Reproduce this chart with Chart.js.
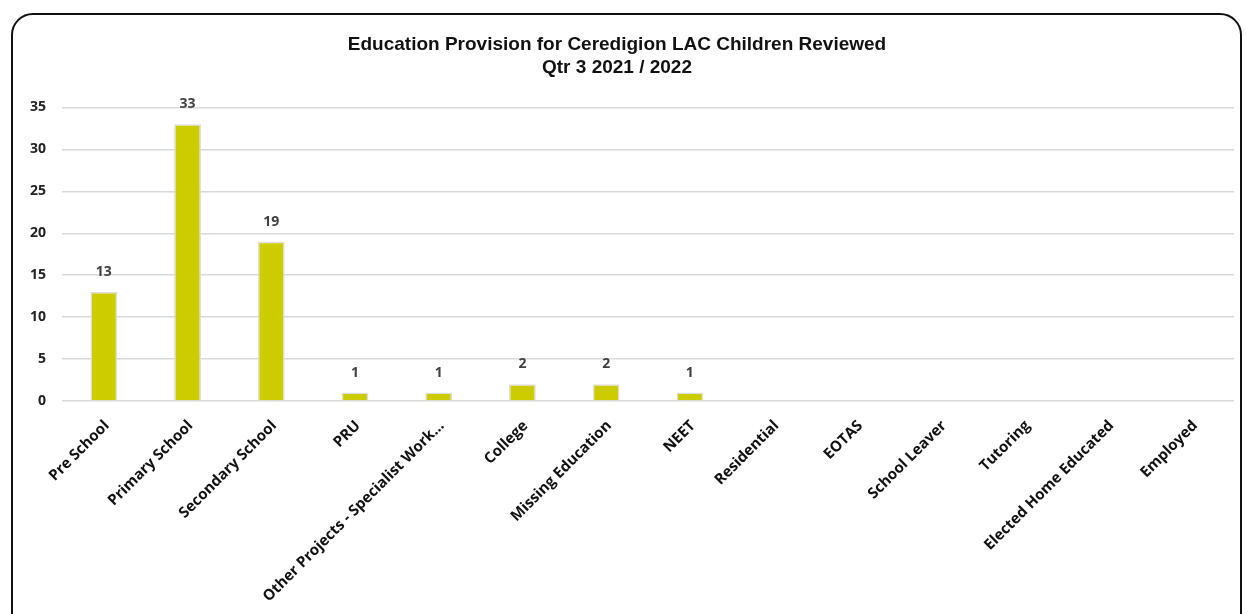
<!DOCTYPE html>
<html>
<head>
<meta charset="utf-8">
<script src="https://cdn.jsdelivr.net/npm/chart.js@4"></script>
<style>
  html, body { margin: 0; padding: 0; background: #fff; width: 1246px; height: 614px; overflow: hidden; }
  #frame { position: absolute; left: 11px; top: 13px; width: 1231px; height: 640px; border: 2px solid #111; border-radius: 22px; box-sizing: border-box; }
  #wrap { position: absolute; left: 0; top: 0; width: 1246px; height: 614px; }
</style>
</head>
<body>
<div id="frame"></div>
<div id="wrap"><canvas id="c" width="1246" height="614"></canvas></div>
<script>
const titleLines = ['Education Provision for Ceredigion LAC Children Reviewed', 'Qtr 3 2021 / 2022'];
const categories = ['Pre School', 'Primary School', 'Secondary School', 'PRU', 'Other Projects - Specialist Work...', 'College', 'Missing Education', 'NEET', 'Residential', 'EOTAS', 'School Leaver', 'Tutoring', 'Elected Home Educated', 'Employed'];
const values = [13, 33, 19, 1, 1, 2, 2, 1, 0, 0, 0, 0, 0, 0];
const yTicks = [0, 5, 10, 15, 20, 25, 30, 35];

const dataLabels = {
  id: 'dataLabels',
  afterDatasetsDraw(chart) {
    const ctx = chart.ctx;
    const meta = chart.getDatasetMeta(0);
    ctx.save();
    ctx.font = 'bold 14px "Open Sans", sans-serif';
    ctx.fillStyle = '#404040';
    ctx.textAlign = 'center';
    ctx.textBaseline = 'middle';
    meta.data.forEach((bar, i) => {
      const v = values[i];
      if (v > 0) ctx.fillText(String(v), bar.x, bar.y - 20);
    });
    ctx.restore();
  }
};

new Chart(document.getElementById('c'), {
  type: 'bar',
  data: {
    labels: categories,
    datasets: [{
      data: values,
      backgroundColor: '#cccc00',
      borderColor: '#dedede',
      borderWidth: 1.5,
      barPercentage: 0.32,
      categoryPercentage: 1.0
    }]
  },
  options: {
    responsive: false,
    animation: false,
    devicePixelRatio: 1,
    layout: { padding: { left: 0, right: 12, top: 0, bottom: 0 } },
    plugins: {
      legend: { display: false },
      tooltip: { enabled: false },
      title: {
        display: true,
        text: titleLines,
        color: '#111',
        font: { family: '"Liberation Sans", Arial, sans-serif', size: 19, weight: 'bold', lineHeight: 1.17 },
        padding: { top: 34, bottom: 29 }
      }
    },
    scales: {
      x: {
        grid: { display: false, drawTicks: false },
        border: { display: false },
        ticks: {
          autoSkip: false,
          minRotation: 45,
          maxRotation: 45,
          padding: 16,
          labelOffset: 3,
          color: '#111',
          font: { family: '"Open Sans", sans-serif', size: 15, weight: 'bold' }
        },
        afterFit(scale) { scale.height = 213; }
      },
      y: {
        min: 0,
        max: 35,
        afterBuildTicks(scale) { scale.ticks = yTicks.map(v => ({ value: v })); },
        grid: { color: '#d9d9d9', lineWidth: 1.5, drawTicks: false },
        border: { display: false },
        ticks: {
          padding: 16,
          color: '#222',
          font: { family: '"Open Sans", sans-serif', size: 14, weight: 'bold' }
        },
        afterFit(scale) { scale.width = 62; }
      }
    }
  },
  plugins: [dataLabels]
});
</script>
</body>
</html>
